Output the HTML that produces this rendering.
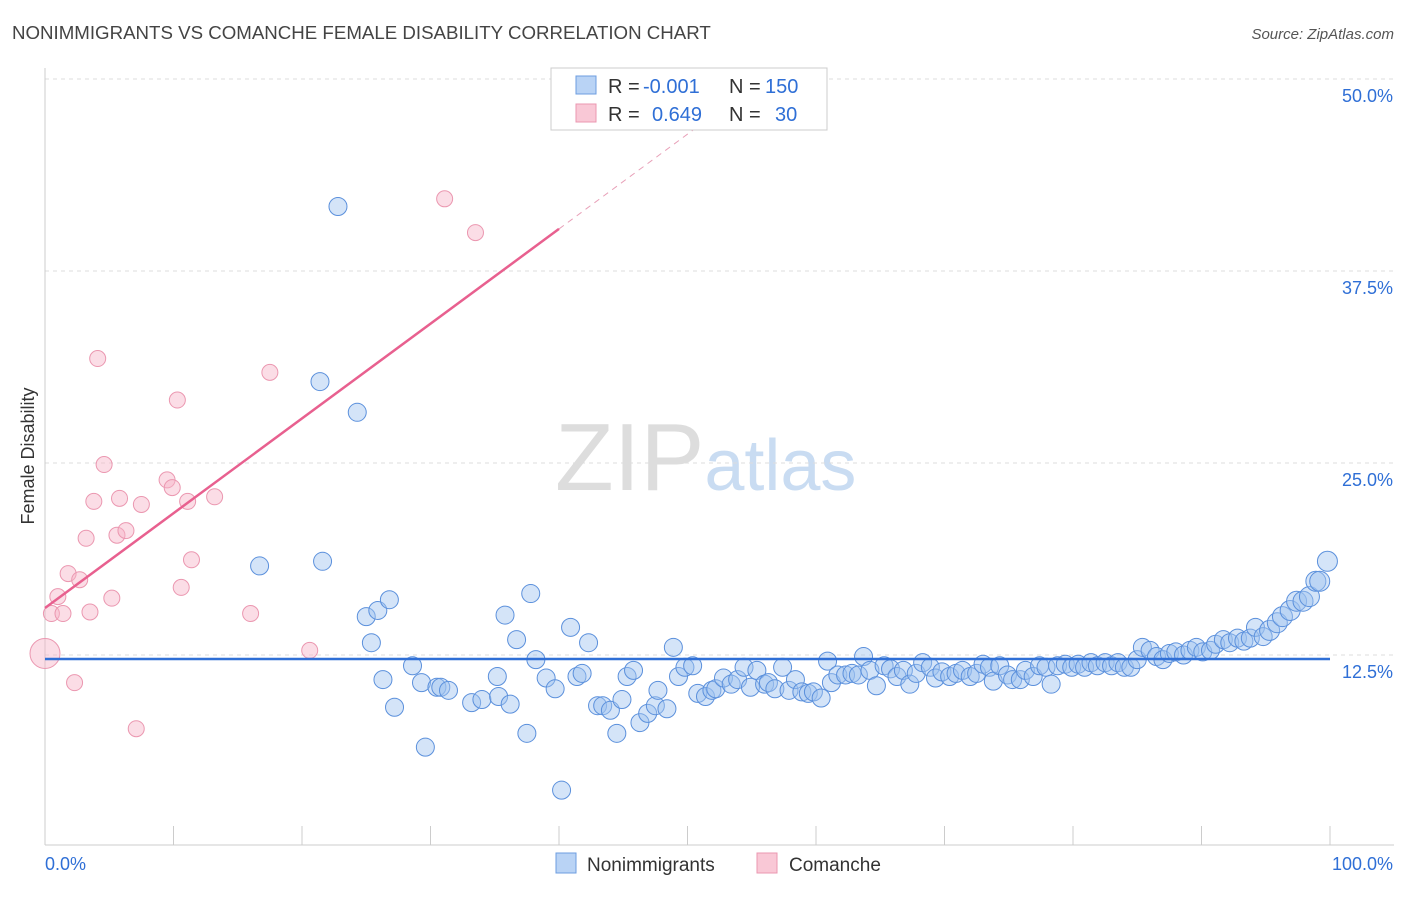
<!DOCTYPE html>
<html><head><meta charset="utf-8"><style>
body{margin:0;background:#fff;font-family:"Liberation Sans",sans-serif;}
svg text{font-family:"Liberation Sans",sans-serif;}
</style></head><body>
<svg id="chart" width="1406" height="892" viewBox="0 0 1406 892">
<text x="12" y="39" font-size="18.7" fill="#444">NONIMMIGRANTS VS COMANCHE FEMALE DISABILITY CORRELATION CHART</text>
<text x="1394" y="39" font-size="15" fill="#555" text-anchor="end" font-style="italic">Source: ZipAtlas.com</text>
<text x="555" y="490" font-size="96" fill="#ddd" font-family="Liberation Serif"><tspan fill="#ddd">ZIP</tspan><tspan fill="#c9dcf2" font-family="Liberation Sans" font-size="72">atlas</tspan></text>
<g id="grid"></g>
<g id="axes"></g>
<text transform="translate(34,456) rotate(-90)" font-size="18" fill="#333" text-anchor="middle">Female Disability</text>
<g id="marks"></g>
<g>
<rect x="551" y="68" width="276" height="62" fill="#fff" stroke="#ccc"/>
<rect x="576" y="76" width="20" height="18" fill="#b9d3f5" stroke="#6d9ee0"/>
<rect x="576" y="104" width="20" height="18" fill="#f9c8d6" stroke="#eb97b0"/>
<text x="608" y="93" font-size="20" fill="#333">R =</text>
<text x="643" y="93" font-size="20" fill="#2f6fd6">-0.001</text>
<text x="729" y="93" font-size="20" fill="#333">N =</text>
<text x="765" y="93" font-size="20" fill="#2f6fd6">150</text>
<text x="608" y="121" font-size="20" fill="#333">R =</text>
<text x="652" y="121" font-size="20" fill="#2f6fd6">0.649</text>
<text x="729" y="121" font-size="20" fill="#333">N =</text>
<text x="775" y="121" font-size="20" fill="#2f6fd6">30</text>
</g>
<g>
<rect x="556" y="853" width="20" height="20" fill="#b9d3f5" stroke="#6d9ee0"/>
<text x="587" y="871" font-size="19" fill="#333">Nonimmigrants</text>
<rect x="757" y="853" width="20" height="20" fill="#f9c8d6" stroke="#eb97b0"/>
<text x="789" y="871" font-size="19" fill="#333">Comanche</text>
</g>
</svg>
<script>
const blueX=[22.8,21.4,24.3,16.7,21.6,25.0,25.9,26.8,25.4,26.3,27.2,28.6,29.3,30.5,30.8,31.4,29.6,33.2,34.0,35.2,35.3,35.8,36.2,36.7,37.5,37.8,38.2,39.0,39.7,40.2,40.9,41.4,41.8,42.3,43.0,43.4,44.0,44.5,44.9,45.3,45.8,46.3,46.9,47.5,47.7,48.4,48.9,49.3,49.8,50.4,50.8,51.4,51.9,52.2,52.8,53.4,53.9,54.4,54.9,55.4,56.0,56.3,56.8,57.4,57.9,58.4,58.9,59.4,59.8,60.4,60.9,61.2,61.7,62.3,62.8,63.3,63.7,64.2,64.7,65.3,65.8,66.3,66.8,67.3,67.8,68.3,68.9,69.3,69.8,70.4,70.9,71.4,72.0,72.5,73.0,73.5,73.8,74.3,74.9,75.3,75.9,76.3,76.9,77.4,77.9,78.3,78.8,79.4,79.9,80.4,80.9,81.4,81.9,82.5,83.0,83.5,84.0,84.5,85.0,85.4,86.0,86.5,87.0,87.5,88.0,88.6,89.1,89.6,90.1,90.7,91.1,91.7,92.2,92.8,93.3,93.8,94.2,94.8,95.3,95.9,96.3,96.9,97.4,97.9,98.4,98.9,99.2,99.8];
const blueY=[41.7,30.3,28.3,18.3,18.6,15.0,15.4,16.1,13.3,10.9,9.1,11.8,10.7,10.4,10.4,10.2,6.5,9.4,9.6,11.1,9.8,15.1,9.3,13.5,7.4,16.5,12.2,11.0,10.3,3.7,14.3,11.1,11.3,13.3,9.2,9.2,8.9,7.4,9.6,11.1,11.5,8.1,8.7,9.2,10.2,9.0,13.0,11.1,11.7,11.8,10.0,9.8,10.2,10.3,11.0,10.6,10.9,11.7,10.4,11.5,10.6,10.7,10.3,11.7,10.2,10.9,10.1,10.0,10.1,9.7,12.1,10.7,11.2,11.2,11.3,11.2,12.4,11.5,10.5,11.8,11.6,11.1,11.5,10.6,11.3,12.0,11.7,11.0,11.4,11.1,11.3,11.5,11.1,11.3,11.9,11.7,10.8,11.8,11.2,10.9,10.9,11.5,11.1,11.8,11.7,10.6,11.8,11.9,11.7,11.9,11.7,12.0,11.8,12.0,11.8,12.0,11.7,11.7,12.2,13.0,12.8,12.4,12.2,12.6,12.7,12.5,12.8,13.0,12.7,12.8,13.2,13.5,13.3,13.6,13.4,13.6,14.3,13.7,14.1,14.6,15.0,15.4,16.0,16.0,16.3,17.3,17.3,18.6];
const pinkX=[0,0.5,1.0,1.4,1.8,2.3,2.7,3.2,3.5,3.8,4.1,4.6,5.2,5.6,5.8,6.3,7.1,7.5,9.5,9.9,10.3,10.6,11.1,11.4,13.2,16.0,17.5,20.6,31.1,33.5];
const pinkY=[12.6,15.2,16.3,15.2,17.8,10.7,17.4,20.1,15.3,22.5,31.8,24.9,16.2,20.3,22.7,20.6,7.7,22.3,23.9,23.4,29.1,16.9,22.5,18.7,22.8,15.2,30.9,12.8,42.2,40.0];
const yTicks=[12.5,25,37.5,50];
const yTickLabels=["12.5%","25.0%","37.5%","50.0%"];
const xTicks=[0,10,20,30,40,50,60,70,80,90,100];
const blueTrend=[12.24,12.24];
const pinkTrend=[15.56,0.617];

const NS="http://www.w3.org/2000/svg";
const sx=v=>45+v*12.85;
const sy=v=>847-v*15.36;
function mk(tag,attrs,parent){const e=document.createElementNS(NS,tag);for(const k in attrs)e.setAttribute(k,attrs[k]);parent.appendChild(e);return e;}
const grid=document.getElementById('grid'),axes=document.getElementById('axes'),marks=document.getElementById('marks');
yTicks.forEach((t,i)=>{
  const l=mk('line',{x1:45,x2:1394,y1:sy(t),y2:sy(t),stroke:'#ddd','stroke-dasharray':'4,4'},grid);
  
  
  const tx=mk('text',{x:1393,y:sy(t)+23,'font-size':18,fill:'#2f6fd6','text-anchor':'end'},axes);
  tx.textContent=yTickLabels[i];
  
  
});
const yl=mk('line',{x1:45,x2:45,y1:68,y2:845,stroke:'#ccc'},axes);


const xl=mk('line',{x1:45,x2:1394,y1:845,y2:845,stroke:'#ccc'},axes);


xTicks.forEach(t=>{
  const l=mk('line',{x1:sx(t),x2:sx(t),y1:826,y2:845,stroke:'#ccc'},axes);
  
  
});
const x0=mk('text',{x:45,y:870,'font-size':18,fill:'#2f6fd6'},axes);x0.textContent='0.0%';


const x1=mk('text',{x:1393,y:870,'font-size':18,fill:'#2f6fd6','text-anchor':'end'},axes);x1.textContent='100.0%';



pinkX.forEach((v,i)=>{
  const c=mk('circle',{cx:sx(v),cy:sy(pinkY[i]),r:i===0?15:8,fill:'rgba(246,180,200,0.45)',stroke:'#eb97b0','stroke-width':1},marks);
  
  
});
blueX.forEach((v,i)=>{
  const c=mk('circle',{cx:sx(v),cy:sy(blueY[i]),r:v>95?10:9,fill:'rgba(160,196,240,0.45)',stroke:'#5b90dc','stroke-width':1},marks);
  
  
});
const bt=mk('line',{x1:sx(0),x2:sx(100),y1:sy(blueTrend[0]),y2:sy(blueTrend[1]),stroke:'#2f6fd6','stroke-width':2.5},marks);


const pt=mk('line',{x1:sx(0),x2:sx(40),y1:sy(pinkTrend[0]),y2:sy(pinkTrend[0]+pinkTrend[1]*40),stroke:'#e8608f','stroke-width':2.5},marks);


const pd=mk('line',{x1:sx(40),x2:sx(51),y1:sy(pinkTrend[0]+pinkTrend[1]*40),y2:sy(pinkTrend[0]+pinkTrend[1]*51),stroke:'#e8a0b8','stroke-width':1,'stroke-dasharray':'6,5'},marks);


</script>
</body></html>
